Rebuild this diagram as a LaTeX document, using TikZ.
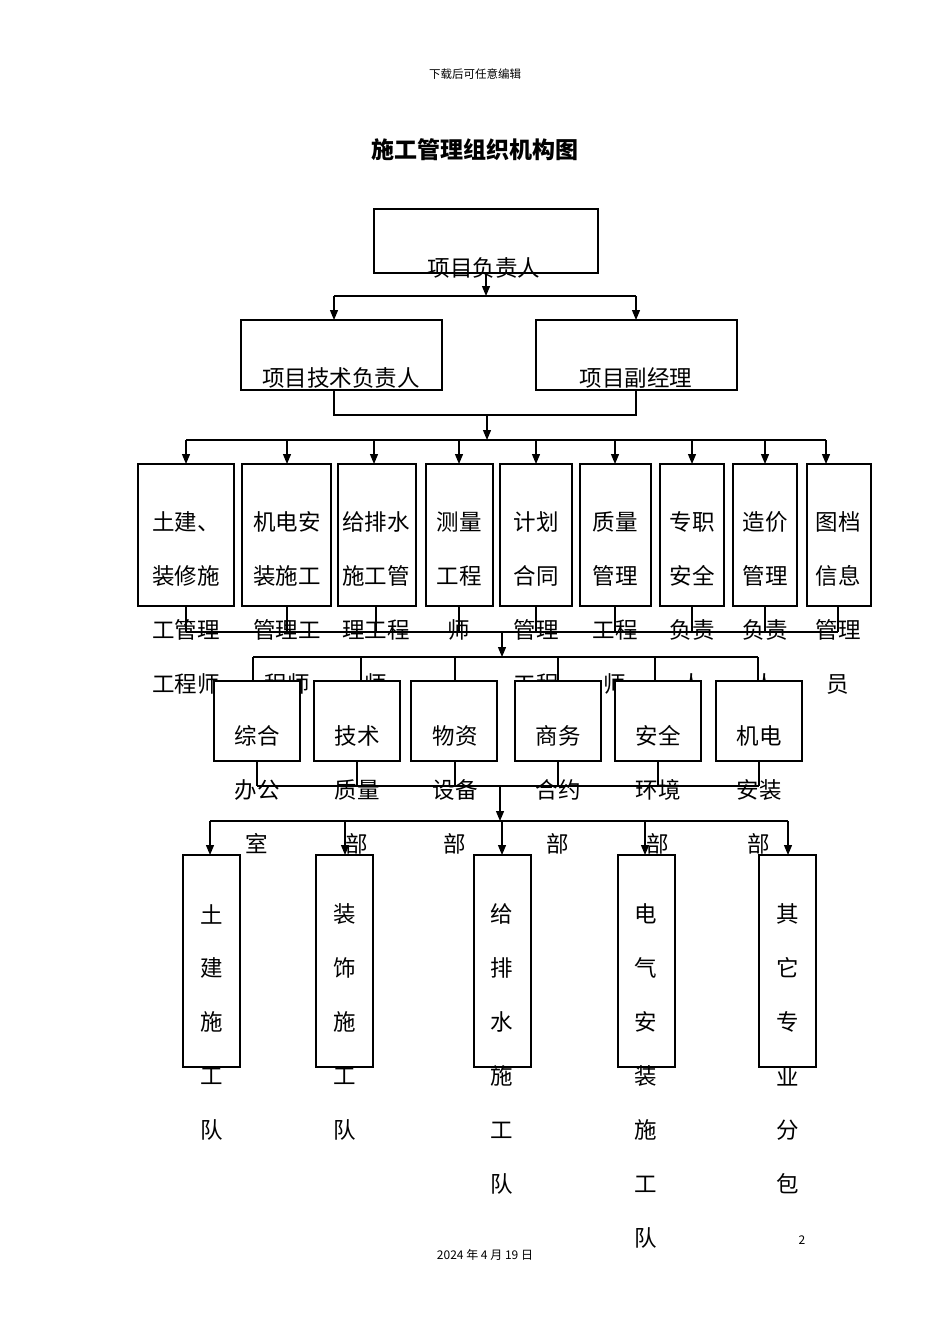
\documentclass[tikz,border=0pt]{standalone}
\usepackage{fontspec}
\setmainfont{Noto Sans CJK SC}
\usetikzlibrary{arrows.meta}
\begin{document}
\begin{tikzpicture}[x=1pt,y=-1pt,
  bx/.style={draw,line width=1.2pt,fill=white},
  ln/.style={line width=1.2pt},
  ar/.style={line width=1.2pt,-{Triangle[length=10pt,width=8pt]}},
  tx/.style={font=\fontsize{22.5}{22.5}\selectfont,inner sep=0pt,anchor=center}]
\useasboundingbox (0,0) rectangle (950,1344);
\node[font=\fontsize{11.5}{11.5}\selectfont] (hd) at (475,74) {下载后可任意编辑};
\node[font=\fontsize{23}{23}\selectfont\bfseries] (tt) at (475,150) {施工管理组织机构图};
\node[font=\fontsize{12}{12}\selectfont] (ft) at (485,1255) {2024 年 4 月 19 日};
\node[font=\fontsize{12}{12}\selectfont] (pg) at (802,1240) {2};
% top
\draw[bx] (374,209) rectangle (598,273);
\node[tx] (t0) at (484,268) {项目负责人};
\coordinate (c0) at (486,273);
\coordinate (h1) at (486,296);
\draw[ar] (c0) -- (h1);
\draw[ln] (334,296) -- (636,296);
\draw[ar] (334,296) -- (334,320);
\draw[ar] (636,296) -- (636,320);
\draw[bx] (241,320) rectangle (442,390);
\draw[bx] (536,320) rectangle (737,390);
\node[tx] (t1) at (341,378) {项目技术负责人};
\node[tx] (t2) at (636,378) {项目副经理};
\draw[ln] (334,390) -- (334,415) -- (636,415) -- (636,390);
\draw[ar] (487,415) -- (487,440);
\draw[ln] (186,440) -- (826,440);
\foreach \x in {186,287,374,459,536,615,692,765,826}
  \draw[ar] (\x,440) -- (\x,464);
% row1
\foreach \a/\b in {138/234,242/331,338/416,426/493,500/572,580/651,660/724,733/797,807/871}
  \draw[bx] (\a,464) rectangle (\b,606);
\foreach \x/\l in {186/{土建、,装修施,工管理,工程师},287/{机电安,装施工,管理工,程师},376/{给排水,施工管,理工程,师},459/{测量,工程,师},536/{计划,合同,管理,工程},615/{质量,管理,工程,师},692/{专职,安全,负责,人},765/{造价,管理,负责,人},838/{图档,信息,管理,员}}{
  \foreach \s [count=\i] in \l
    \node[tx] at (\x,468+54*\i) {\s};
}
\foreach \x in {186,287,376,459,536,615,692,765,838}
  \draw[ln] (\x,606) -- (\x,632);
\draw[ln] (186,632) -- (838,632);
\draw[ar] (502,632) -- (502,657);
\draw[ln] (253,657) -- (758,657);
\foreach \x in {253,361,455,558,655,758}
  \draw[ln] (\x,657) -- (\x,681);
% row2
\foreach \a in {214,314,411,515,615,716}
  \draw[bx] (\a,681) rectangle ++(86,80);
\foreach \x/\l in {257/{综合,办公,室},357/{技术,质量,部},455/{物资,设备,部},558/{商务,合约,部},658/{安全,环境,部},759/{机电,安装,部}}{
  \foreach \s [count=\i] in \l
    \node[tx] at (\x,682+54*\i) {\s};
}
\foreach \x in {257,357,455,558,658,759}
  \draw[ln] (\x,761) -- (\x,786);
\draw[ln] (257,786) -- (759,786);
\draw[ar] (500,786) -- (500,821);
\draw[ln] (210,821) -- (788,821);
\foreach \x in {210,345,502,645,788}
  \draw[ar] (\x,821) -- (\x,855);
% row3
\foreach \a in {183,316,474,618,759}
  \draw[bx] (\a,855) rectangle ++(57,212);
\foreach \x/\l in {212/{土,建,施,工,队},345/{装,饰,施,工,队},502/{给,排,水,施,工,队},646/{电,气,安,装,施,工,队},788/{其,它,专,业,分,包}}{
  \foreach \s [count=\i] in \l
    \node[tx] at (\x,860+54*\i) {\s};
}
\end{tikzpicture}
\end{document}
